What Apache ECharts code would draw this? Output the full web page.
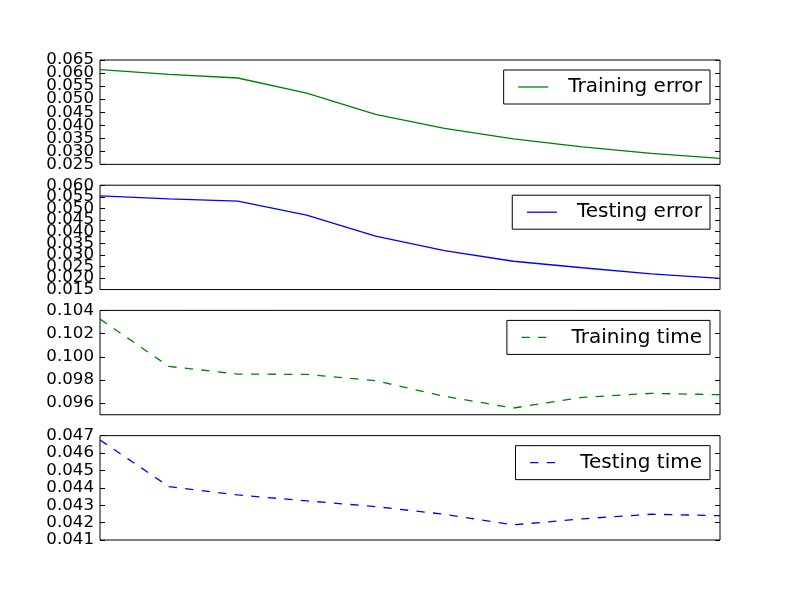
<!DOCTYPE html>
<html>
<head>
<meta charset="utf-8">
<script src="https://cdn.jsdelivr.net/npm/echarts@6/dist/echarts.min.js"></script>
<style>html,body{margin:0;padding:0;background:#fff}#c{width:800px;height:600px}</style>
</head>
<body>
<div id="c"></div>
<script>
const steps = ['1','2','3','4','5','6','7','8','9','10'];
const trainingError = [0.0613, 0.0595, 0.0581, 0.0523, 0.0442, 0.0388, 0.0348, 0.0317, 0.0292, 0.0273];
const testingError  = [0.0554, 0.0541, 0.0531, 0.0471, 0.0380, 0.0318, 0.0272, 0.0244, 0.0218, 0.0198];
const trainingTime  = [0.10325, 0.09917, 0.09851, 0.09848, 0.09794, 0.09659, 0.09558, 0.0965, 0.09684, 0.09673];
const testingTime   = [0.04675, 0.04407, 0.04359, 0.04325, 0.04292, 0.04248, 0.04187, 0.04222, 0.04248, 0.0424];
const seriesNames = ['Training error', 'Testing error', 'Training time', 'Testing time'];
const yMins  = [0.025, 0.015, 0.095, 0.041];
const yMaxs  = [0.065, 0.060, 0.104, 0.047];
const yTicks = [
  [0.025, 0.030, 0.035, 0.040, 0.045, 0.050, 0.055, 0.060, 0.065],
  [0.015, 0.020, 0.025, 0.030, 0.035, 0.040, 0.045, 0.050, 0.055, 0.060],
  [0.096, 0.098, 0.100, 0.102, 0.104],
  [0.041, 0.042, 0.043, 0.044, 0.045, 0.046, 0.047]
];

const values = [trainingError, testingError, trainingTime, testingTime];
const colors = ['#008000', '#0000ff', '#008000', '#0000ff'];
const dashed = [false, false, true, true];
const font = 'DejaVu Sans';
const tops = [60, 185.2, 310.4, 435.65];
const h = 104.35;

const grid = [], xAxis = [], yAxis = [], series = [], legend = [];
for (let i = 0; i < 4; i++) {
  grid.push({left: 100, right: 80, top: tops[i], height: h, show: true,
    borderColor: '#000', borderWidth: 1, backgroundColor: '#fff', containLabel: false});
  xAxis.push({type: 'category', gridIndex: i, data: steps, boundaryGap: false,
    axisLine: {show: false}, axisTick: {show: false}, axisLabel: {show: false}, splitLine: {show: false}});
  const ticks = yTicks[i];
  const labelsA = ticks.filter((_, k) => k % 2 === 0);
  const labelsB = ticks.filter((_, k) => k % 2 === 1);
  const tickStyle = {show: true, inside: true, length: 5, customValues: ticks, lineStyle: {color: '#000', width: 1}};
  const common = {type: 'value', gridIndex: i, min: yMins[i], max: yMaxs[i],
    splitLine: {show: false}, axisLine: {show: false}};
  const lbl = (vals) => ({show: true, margin: 6, color: '#000', fontFamily: font, fontSize: 16.67,
      showMinLabel: true, showMaxLabel: true, hideOverlap: false,
      customValues: vals, formatter: v => v.toFixed(3)});
  yAxis.push(Object.assign({}, common, {position: 'left', axisTick: tickStyle, axisLabel: lbl(labelsA)}));
  yAxis.push(Object.assign({}, common, {position: 'left', axisTick: {show: false}, axisLabel: lbl(labelsB)}));
  yAxis.push(Object.assign({}, common, {position: 'right', axisTick: tickStyle, axisLabel: {show: false}}));
  const ls = {color: colors[i], width: 1.3, type: dashed[i] ? [8.3, 8.3] : 'solid'};
  series.push({name: seriesNames[i], type: 'line', xAxisIndex: i, yAxisIndex: 3 * i,
    data: values[i], symbol: 'none', showSymbol: false, animation: false,
    lineStyle: ls, itemStyle: {color: colors[i]}});
  legend.push({data: [seriesNames[i]], right: 90, top: tops[i] + 10, orient: 'vertical',
    borderColor: '#000', borderWidth: 1, borderRadius: 0, backgroundColor: '#fff',
    padding: [7, 8, 7, 14], itemWidth: 30, itemHeight: 20, selectedMode: false,
    itemStyle: {color: 'transparent', borderColor: 'transparent', borderWidth: 0, opacity: 0},
    lineStyle: Object.assign({opacity: 1}, ls),
    textStyle: {fontFamily: font, fontSize: 20, color: '#000', padding: [0, 0, 0, 15]}});
}

const chart = echarts.init(document.getElementById('c'), null, {renderer: 'canvas'});
chart.setOption({animation: false, backgroundColor: '#fff', grid, xAxis, yAxis, series, legend});
</script>
</body>
</html>
